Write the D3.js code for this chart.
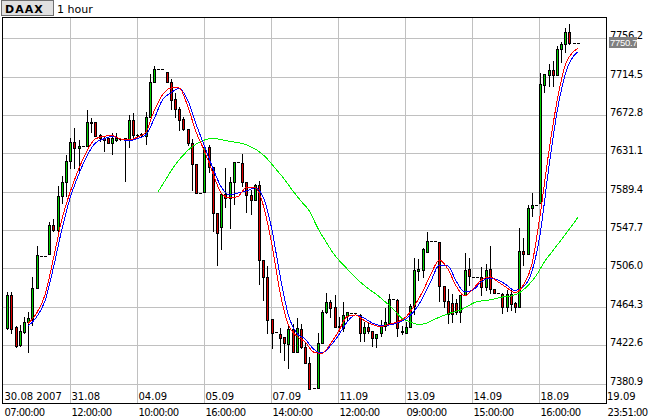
<!DOCTYPE html>
<html><head><meta charset="utf-8">
<script src="https://cdn.jsdelivr.net/npm/d3@7"></script>
<style>body{margin:0;background:#fff}svg{display:block}</style>
</head><body><svg id="c" width="650" height="420"></svg>
<script>
// ---- data (hourly OHLC, DAAX) ----
const opens = [7441.6,7477.1,7442.3,7422.7,7437.2,7448.3,7451.0,7484.7,7519.5,7519.5,
7521.7,7553.2,7547.8,7584.8,7600.0,7622.8,7643.8,7637.0,7639.1,7639.1,
7664.1,7665.2,7651.1,7648.2,7647.8,7642.4,7645.7,7646.8,7646.8,7646.4,
7667.4,7651.1,7651.1,7650.0,7670.3,7708.4,7722.5,7722.5,7719.9,7708.4,
7689.9,7679.0,7668.2,7657.3,7642.7,7619.2,7588.4,7589.4,7638.4,7616.6,
7566.0,7550.7,7586.9,7582.3,7599.7,7621.4,7620.3,7599.7,7585.9,7580.4,
7596.7,7515.2,7497.0,7450.7,7436.6,7434.4,7431.1,7423.8,7439.8,7414.8,
7439.8,7420.9,7402.8,7375.7,7375.7,7425.2,7458.1,7469.0,7464.1,7443.4,
7441.5,7454.6,7457.9,7457.9,7455.7,7436.1,7442.6,7437.6,7430.0,7435.5,
7443.4,7447.2,7472.4,7471.7,7438.0,7436.1,7442.6,7465.2,7503.2,7504.3,
7524.2,7535.3,7535.3,7534.2,7486.6,7471.1,7468.4,7468.4,7459.0,7476.8,
7505.1,7497.2,7497.2,7497.0,7486.1,7505.4,7483.6,7479.0,7477.9,7464.1,
7477.9,7468.7,7464.1,7525.0,7521.4,7571.4,7575.0,7576.8,7705.5,7716.3,
7721.8,7716.3,7744.6,7749.7,7762.8,7750.7,7750.7];
const highs = [7480.4,7480.4,7443.4,7444.5,7453.7,7458.6,7496.7,7530.4,7519.5,7519.5,
7556.8,7559.8,7595.6,7606.5,7629.4,7648.2,7659.0,7645.7,7639.1,7678.3,
7669.6,7665.2,7652.2,7650.0,7648.9,7653.6,7653.6,7647.8,7648.2,7672.8,
7675.3,7652.2,7653.3,7676.4,7717.4,7726.1,7722.5,7722.5,7719.9,7711.7,
7696.4,7681.9,7670.7,7657.3,7646.4,7619.2,7588.4,7640.2,7640.2,7616.6,
7566.0,7586.9,7614.9,7605.1,7621.4,7621.4,7630.4,7599.7,7591.3,7597.8,
7601.1,7515.2,7508.7,7450.7,7436.6,7441.2,7431.4,7445.0,7445.6,7452.1,
7445.6,7426.3,7410.0,7375.7,7435.5,7460.8,7479.8,7471.7,7477.1,7453.5,
7469.5,7458.9,7457.9,7457.9,7456.1,7447.8,7448.1,7437.6,7434.7,7449.9,
7463.3,7478.2,7472.4,7472.4,7443.4,7448.1,7467.3,7516.8,7515.9,7527.9,
7545.6,7535.3,7535.3,7534.2,7487.4,7484.0,7477.7,7472.8,7476.8,7522.8,
7516.8,7497.2,7497.2,7507.9,7510.5,7530.7,7483.6,7479.0,7478.8,7482.6,
7482.6,7469.5,7549.6,7539.4,7575.0,7587.7,7575.0,7718.8,7717.1,7728.0,
7731.6,7747.9,7752.6,7767.8,7771.5,7750.7,7750.7];
const lows = [7439.8,7435.8,7420.6,7421.7,7435.8,7415.5,7444.5,7484.7,7519.5,7519.5,
7521.7,7546.7,7545.9,7577.2,7584.8,7615.2,7615.2,7610.1,7639.1,7639.1,
7654.7,7650.0,7644.9,7634.0,7642.4,7630.4,7644.9,7645.1,7601.4,7638.1,
7649.3,7647.8,7648.9,7641.3,7670.3,7708.4,7722.5,7722.5,7708.4,7679.0,
7670.7,7656.5,7656.5,7640.2,7591.3,7588.4,7588.4,7589.4,7611.2,7546.7,
7509.7,7527.1,7572.8,7550.3,7576.1,7621.4,7596.0,7567.0,7565.2,7580.4,
7489.1,7471.7,7435.8,7419.8,7436.6,7415.1,7406.4,7397.4,7415.5,7414.8,
7419.5,7402.8,7374.6,7375.7,7375.7,7425.2,7457.5,7453.2,7442.0,7438.3,
7438.3,7449.9,7457.9,7457.9,7426.6,7427.4,7435.5,7421.7,7420.2,7432.5,
7439.1,7447.2,7472.4,7432.5,7434.7,7435.5,7442.6,7456.5,7493.4,7496.4,
7524.2,7535.3,7535.3,7470.6,7464.1,7447.0,7447.8,7456.5,7448.1,7476.8,
7488.0,7497.2,7497.2,7477.1,7482.6,7479.0,7479.0,7479.0,7457.9,7459.7,
7460.8,7458.6,7464.1,7509.7,7521.4,7563.0,7575.0,7576.8,7697.5,7704.7,
7704.7,7716.3,7730.8,7741.0,7749.7,7750.7,7750.7];
const closes = [7477.1,7440.1,7421.7,7438.0,7447.8,7452.1,7484.7,7520.6,7519.5,7519.5,
7553.2,7547.8,7584.8,7600.0,7622.8,7643.8,7636.6,7639.1,7639.1,7665.2,
7665.2,7650.0,7648.2,7645.7,7642.7,7647.8,7648.2,7646.2,7647.3,7667.4,
7651.1,7650.6,7652.2,7670.3,7708.4,7722.5,7722.5,7722.5,7708.4,7689.2,
7679.0,7667.4,7657.3,7642.7,7619.2,7588.4,7588.4,7638.4,7616.6,7566.0,
7544.2,7586.9,7582.3,7599.7,7621.4,7621.4,7600.3,7585.9,7580.4,7596.7,
7515.2,7497.0,7449.9,7436.1,7436.6,7430.0,7424.6,7439.8,7415.5,7440.9,
7420.9,7402.8,7374.9,7375.7,7425.2,7458.1,7469.0,7463.5,7442.0,7442.0,
7455.0,7458.6,7457.9,7457.9,7435.5,7442.6,7437.6,7430.0,7434.7,7442.9,
7447.8,7472.4,7472.4,7441.2,7436.9,7442.6,7465.2,7504.3,7505.1,7526.8,
7535.3,7535.3,7535.3,7486.6,7471.1,7456.5,7456.5,7459.0,7476.8,7504.8,
7497.5,7497.2,7497.2,7486.1,7504.3,7483.6,7479.0,7479.0,7464.1,7477.9,
7467.3,7464.1,7525.0,7521.4,7572.0,7575.0,7575.0,7706.2,7717.1,7721.8,
7716.3,7744.6,7749.7,7762.8,7750.7,7750.7,7750.7];

// moving averages (bar index -> value)
const maIndex = [5,7,9,11,13,15,17,19,21,23,25,27,29,31,33,35,37,39,41,43,45,47,49,51,53,55,57,59,61,63,
65,67,69,71,73,75,77,79,81,83,85,87,89,91,93,95,97,99,101,103,105,107,109,111,113,115,117,119,121,123,
125,127,129,131,133,135,136];
const maFast = [7446.3,7457.2,7477.1,7516.3,7558.7,7589.1,7613.6,7633.7,7646.8,7649.5,
7650.6,7646.8,7645.7,7648.6,7653.8,7677.2,7694.6,7702.2,7702.2,7682.6,
7654.4,7633.7,7609.8,7588.0,7582.6,7584.2,7594.0,7594.0,7575.0,7533.7,
7480.4,7444.5,7432.5,7426.0,7415.1,7413.7,7423.8,7438.0,7453.7,7455.4,
7449.6,7445.0,7442.8,7445.3,7447.8,7453.2,7465.2,7480.7,7500.0,7515.2,
7505.4,7486.9,7476.0,7483.6,7493.4,7496.9,7491.3,7485.3,7479.6,7488.0,
7509.7,7564.1,7630.4,7687.0,7727.2,7741.9,7745.2];
const maSlow = [7443.4,7453.2,7470.6,7506.5,7547.8,7582.6,7607.6,7628.3,7642.4,7646.8,
7649.5,7646.8,7644.6,7647.3,7651.1,7668.5,7689.2,7696.8,7701.7,7689.2,
7663.1,7639.1,7615.2,7594.6,7585.9,7588.0,7590.2,7593.5,7583.7,7550.0,
7498.9,7455.4,7435.8,7429.3,7418.4,7414.0,7421.7,7433.6,7447.8,7455.4,
7452.1,7446.7,7443.9,7444.5,7446.7,7451.0,7459.7,7473.9,7492.3,7509.7,
7508.7,7492.3,7480.4,7482.6,7491.3,7495.6,7493.4,7488.0,7482.0,7485.8,
7502.1,7543.4,7613.0,7675.0,7717.4,7737.0,7741.4];
const maLongIndex = d3.range(36, 137, 2);
const maLong = [7589.7,7604.3,7618.5,7629.4,7638.1,7643.5,7646.8,7646.8,7645.1,7643.5,
7641.9,7638.4,7633.2,7625.0,7614.1,7603.3,7590.8,7579.3,7568.5,7550.0,
7534.7,7520.6,7510.3,7501.0,7491.8,7484.2,7477.7,7470.0,7461.9,7452.1,
7448.1,7445.0,7446.7,7451.0,7454.8,7458.1,7460.8,7465.7,7470.0,7471.1,
7472.8,7474.9,7476.0,7479.3,7486.9,7497.8,7513.0,7525.0,7536.9,7548.9,
7561.4];

const priceTicks = [7380.9,7422.6,7464.3,7506.0,7547.7,7589.4,7631.1,7672.8,7714.5,7756.2];
const dateLabels = ["30.08 2007","31.08","04.09","05.09","07.09","11.09","13.09","14.09","18.09","19.09"];
const timeLabels = ["07:00:00","12:00:00","10:00:00","16:00:00","14:00:00","12:00:00","09:00:00","15:00:00","16:00:00","23:51:00"];
const symbol = "DAAX", period = "1 hour";
const lastPrice = 7750.7;

// ---- layout ----
const L = 3, R = 606, T = 17, B = 403;
const svg = d3.select("#c");
const font = "'DejaVu Sans', Verdana, sans-serif";
const x = d3.scaleLinear().domain([-1, 142.7]).range([3, 606]);
const y = d3.scaleLinear().domain([7380.9, 7756.2]).range([383.5, 38.3]);
const slot = d3.scaleLinear().domain([0, 9]).range([L, R]);

svg.append("rect").attr("width", 650).attr("height", 420).attr("fill", "#fff");

svg.append("defs").append("clipPath").attr("id", "clip")
  .append("rect").attr("x", L + 1).attr("y", T + 1).attr("width", R - L - 1).attr("height", B - T - 1);

// grid
const grid = svg.append("g").attr("stroke", "#c0c0c0").attr("shape-rendering", "crispEdges");
grid.selectAll("line.h").data(priceTicks).join("line")
  .attr("x1", L).attr("x2", R)
  .attr("y1", d => Math.round(y(d)) + 0.5).attr("y2", d => Math.round(y(d)) + 0.5);
grid.selectAll("line.v").data(d3.range(1, 9)).join("line")
  .attr("y1", T).attr("y2", B)
  .attr("x1", d => Math.round(slot(d)) + 0.5).attr("x2", d => Math.round(slot(d)) + 0.5);

// date labels inside plot
svg.append("g").selectAll("text").data(dateLabels.slice(0, 9)).join("text")
  .attr("x", (d, i) => Math.round(slot(i)) + 1.5).attr("y", 399.5)
  .attr("font-family", font).attr("font-size", 10).attr("fill", "#000").text(d => d);

const plot = svg.append("g").attr("clip-path", "url(#clip)");

// candles
const bars = d3.range(opens.length).map(i => ({i, o: opens[i], h: highs[i], l: lows[i], c: closes[i]}));
const cg = plot.append("g").attr("shape-rendering", "crispEdges");
bars.forEach(b => {
  const px = Math.round(x(b.i));
  const g = cg.append("g");
  if (b.h !== b.l) {
    g.append("line").attr("x1", px + 0.5).attr("x2", px + 0.5)
      .attr("y1", Math.round(y(b.h))).attr("y2", Math.round(y(b.l)) + 1)
      .attr("stroke", "#000");
  }
  const top = Math.round(y(Math.max(b.o, b.c)));
  const bot = Math.round(y(Math.min(b.o, b.c)));
  if (bot - top < 1) {
    g.append("line").attr("x1", px - 1).attr("x2", px + 2)
      .attr("y1", top + 0.5).attr("y2", top + 0.5).attr("stroke", "#000");
  } else {
    g.append("rect").attr("x", px - 0.5).attr("y", top + 0.5)
      .attr("width", 2).attr("height", bot - top)
      .attr("fill", b.c > b.o ? "#00d000" : "#dd0000").attr("stroke", "#000");
  }
});

// moving averages
const line = d3.line().x(d => x(d[0])).y(d => y(d[1])).curve(d3.curveMonotoneX);
const lg = plot.append("g").attr("fill", "none").attr("stroke-width", 1).attr("shape-rendering", "crispEdges");
lg.append("path").attr("d", line(maLongIndex.map((k, j) => [k, maLong[j]]))).attr("stroke", "#00f000");
lg.append("path").attr("d", line(maIndex.map((k, j) => [k, maSlow[j]]))).attr("stroke", "#0000ff");
lg.append("path").attr("d", line(maIndex.map((k, j) => [k, maFast[j]]))).attr("stroke", "#ff0000");

// frame
const fr = svg.append("g").attr("stroke", "#000").attr("shape-rendering", "crispEdges");
fr.append("line").attr("x1", 2.5).attr("x2", 2.5).attr("y1", T).attr("y2", B + 1);
fr.append("line").attr("x1", 2).attr("x2", R + 1).attr("y1", T + 0.5).attr("y2", T + 0.5);
fr.append("line").attr("x1", R + 0.5).attr("x2", R + 0.5).attr("y1", T).attr("y2", B + 1);
fr.append("line").attr("x1", 2).attr("x2", R + 1).attr("y1", B + 0.5).attr("y2", B + 0.5);

// right price axis
const ay = svg.append("g").attr("transform", `translate(${R},0)`)
  .call(d3.axisRight(y).tickValues(priceTicks).tickFormat(d3.format(".1f")).tickSize(0).tickPadding(4));
ay.select(".domain").remove();
ay.selectAll("text").attr("dy", "0.05em").attr("font-family", font).attr("font-size", 10)
  .attr("letter-spacing", "-0.4").attr("fill", "#000");

// last price box (covers the upper part of the top tick label, as in the source)
const ly = Math.round(y(lastPrice));
svg.append("rect").attr("x", 609).attr("y", ly - 6).attr("width", 28).attr("height", 11)
  .attr("fill", "#808080").attr("shape-rendering", "crispEdges");
svg.append("text").attr("x", 610).attr("y", ly + 3)
  .attr("font-family", "'Liberation Sans', Arial, sans-serif").attr("font-size", 9.5)
  .attr("letter-spacing", "-0.3").attr("fill", "#fff").text(d3.format(".1f")(lastPrice));

// last date label (outside frame) and time labels
svg.append("text").attr("x", 607).attr("y", 399.5).attr("font-family", font).attr("font-size", 10)
  .attr("fill", "#000").text(dateLabels[9]);
svg.append("g").selectAll("text").data(timeLabels).join("text")
  .attr("x", (d, i) => i < 9 ? Math.round(slot(i)) + 1.5 : 607.5).attr("y", 415.5)
  .attr("font-family", font).attr("font-size", 10).attr("letter-spacing", "-0.6")
  .attr("fill", "#000").text(d => d);

// title
svg.append("rect").attr("x", 1.5).attr("y", 0.5).attr("width", 52).attr("height", 15)
  .attr("fill", "#e0e0e0").attr("stroke", "#707070").attr("shape-rendering", "crispEdges");
svg.append("text").attr("x", 5).attr("y", 12.5).attr("font-family", font).attr("font-size", 11)
  .attr("font-weight", "bold").attr("letter-spacing", "1").attr("fill", "#000").text(symbol);
svg.append("text").attr("x", 57).attr("y", 12.5).attr("font-family", font).attr("font-size", 11)
  .attr("fill", "#000").text(period);
</script></body></html>
